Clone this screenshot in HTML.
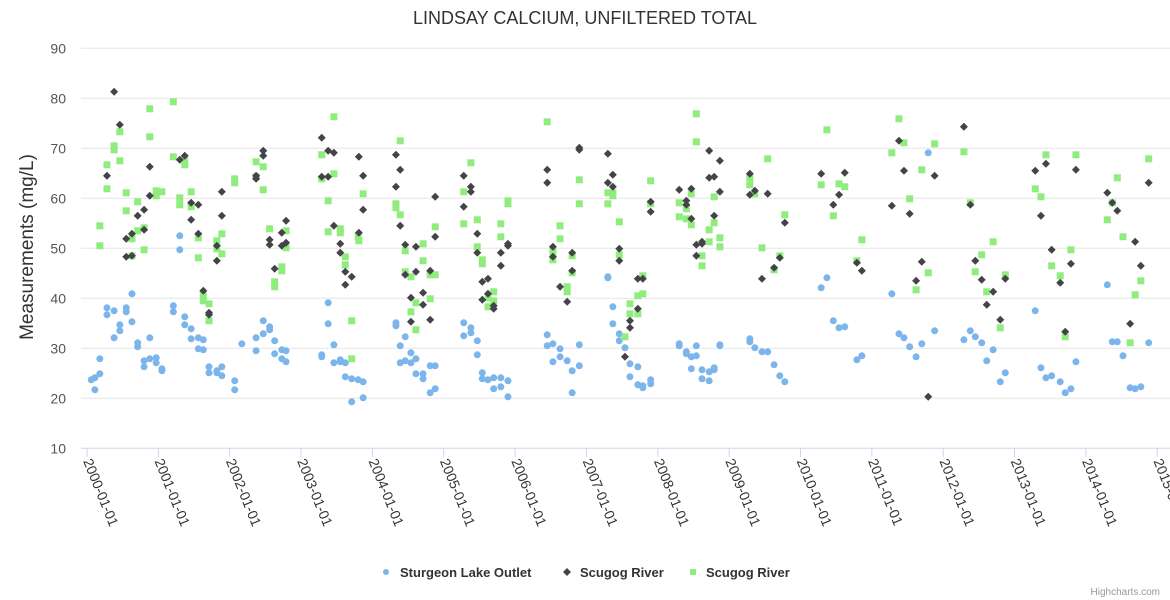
<!DOCTYPE html>
<html><head><meta charset="utf-8">
<style>
body{margin:0;background:#fff;}
svg{display:block;font-family:"Liberation Sans","DejaVu Sans",sans-serif;}
</style></head>
<body>
<svg id="chart" width="1170" height="600" viewBox="0 0 1170 600">
  <rect width="1170" height="600" fill="#fff"/>
  <text x="585" y="24" text-anchor="middle" font-size="18" fill="#333">LINDSAY CALCIUM, UNFILTERED TOTAL</text>
  <g id="grid"></g>
  <g id="yaxis"></g>
  <g id="xaxis"></g>
  <text transform="translate(33,247) rotate(-90)" text-anchor="middle" font-size="19" fill="#333">Measurements (mg/L)</text>
  <g id="series"></g>
  <g>
    <g>
      <circle cx="386" cy="572" r="3" fill="#7cb5ec"/>
      <text x="400" y="577" font-size="13" font-weight="bold" fill="#333">Sturgeon Lake Outlet</text>
    </g>
    <g>
      <path d="M567 568 L571 572 L567 576 L563 572 Z" fill="#434348"/>
      <text x="580" y="577" font-size="13" font-weight="bold" fill="#333">Scugog River</text>
    </g>
    <g>
      <rect x="690" y="569" width="6" height="6" fill="#90ed7d"/>
      <text x="706" y="577" font-size="13" font-weight="bold" fill="#333">Scugog River</text>
    </g>
  </g>
  <text x="1160" y="595" text-anchor="end" font-size="10" fill="#999">Highcharts.com</text>
</svg>
<script>
const yTicks=[10,20,30,40,50,60,70,80,90];
const xTickLabels=["2000-01-01","2001-01-01","2002-01-01","2003-01-01","2004-01-01","2005-01-01","2006-01-01","2007-01-01","2008-01-01","2009-01-01","2010-01-01","2011-01-01","2012-01-01","2013-01-01","2014-01-01","2015-01-01"];
// x = years since 2000-01-01, y = mg/L
const sturgeonX=[0.06,0.11,0.11,0.18,0.18,0.28,0.28,0.38,0.38,0.46,0.46,0.55,0.55,0.63,0.63,0.71,0.71,0.80,0.80,0.88,0.88,0.97,0.97,1.05,1.05,1.21,1.21,1.30,1.30,1.37,1.37,1.46,1.46,1.56,1.56,1.63,1.63,1.71,1.71,1.82,1.82,1.89,1.89,2.07,2.07,2.17,2.37,2.37,2.47,2.47,2.56,2.56,2.63,2.63,2.73,2.73,2.79,2.79,3.29,3.29,3.38,3.38,3.46,3.46,3.55,3.55,3.62,3.62,3.71,3.71,3.80,3.87,3.87,4.33,4.33,4.39,4.46,4.39,4.46,4.54,4.54,4.61,4.61,4.71,4.71,4.81,4.88,4.81,4.88,5.28,5.38,5.38,5.28,5.47,5.47,5.54,5.54,5.62,5.70,5.80,5.70,5.80,5.90,5.90,6.45,6.45,6.53,6.63,6.53,6.63,6.73,6.80,6.90,6.90,6.80,7.30,7.30,7.37,7.37,7.46,7.46,7.54,7.61,7.61,7.72,7.72,7.79,7.79,7.90,7.90,8.30,8.30,8.40,8.40,8.47,8.54,8.54,8.47,8.62,8.62,8.72,8.72,8.79,8.79,8.87,8.87,9.29,9.29,9.36,9.46,9.54,9.63,9.71,9.78,10.29,10.37,10.46,10.54,10.62,10.79,10.86,11.28,11.38,11.45,11.53,11.62,11.70,11.79,11.88,12.29,12.38,12.45,12.54,12.61,12.70,12.80,12.87,13.29,13.37,13.44,13.52,13.64,13.71,13.79,13.86,14.30,14.37,14.44,14.52,14.62,14.69,14.77,14.88];
const sturgeonY=[23.7,24.1,21.7,27.9,24.9,38.1,36.7,37.5,32.1,34.7,33.5,38.1,37.3,40.9,35.3,31.1,30.3,27.5,26.3,32.1,27.9,28.1,27.1,25.9,25.5,38.5,37.3,52.5,49.7,36.3,34.7,33.9,31.9,32.1,29.9,31.7,29.7,26.3,25.1,25.5,25.1,26.3,24.5,23.5,21.7,30.9,32.1,29.5,35.5,32.9,34.3,33.7,31.5,28.9,29.7,27.9,29.5,27.3,28.7,28.3,39.1,34.9,30.7,27.1,27.7,27.3,27.1,24.3,23.9,19.3,23.7,23.3,20.1,35.1,34.5,30.5,32.3,27.1,27.5,29.1,27.1,27.9,24.9,24.9,23.9,26.5,26.5,21.1,21.9,35.1,34.1,33.1,32.5,31.5,28.7,25.1,23.9,23.7,24.1,24.1,21.9,22.3,23.5,20.3,32.7,30.5,30.9,29.9,27.3,28.3,27.5,25.5,30.7,26.5,21.1,44.3,44.1,38.3,34.9,32.9,31.5,30.1,26.9,24.3,26.3,22.7,22.5,22.1,23.7,22.9,30.9,30.5,29.3,28.9,28.3,30.5,28.5,25.9,25.7,23.9,25.3,23.5,26.1,25.7,30.7,30.5,31.9,31.3,30.1,29.3,29.3,26.7,24.5,23.3,42.1,44.1,35.5,34.1,34.3,27.7,28.5,40.9,32.9,32.1,30.3,28.3,30.9,69.1,33.5,31.7,33.5,32.3,31.1,27.5,29.7,23.3,25.1,37.5,26.1,24.1,24.5,23.3,21.1,21.9,27.3,42.7,31.3,31.3,28.5,22.1,21.9,22.3,31.1];
const scugogAX=[0.38,0.46,0.28,0.55,0.55,0.63,0.63,0.71,0.80,0.80,0.88,0.88,1.30,1.37,1.46,1.46,1.56,1.56,1.63,1.71,1.71,1.82,1.82,1.89,1.89,2.37,2.37,2.47,2.47,2.56,2.56,2.63,2.73,2.73,2.79,2.79,3.29,3.29,3.38,3.38,3.46,3.46,3.55,3.55,3.62,3.62,3.71,3.81,3.81,3.87,3.87,4.33,4.39,4.33,4.39,4.46,4.46,4.61,4.61,4.88,4.88,4.81,4.71,4.71,4.54,4.54,4.81,5.28,5.38,5.38,5.28,5.47,5.47,5.54,5.62,5.62,5.54,5.70,5.70,5.80,5.80,5.90,5.90,6.45,6.45,6.53,6.53,6.63,6.73,6.80,6.80,6.90,6.90,7.30,7.37,7.30,7.37,7.46,7.46,7.61,7.61,7.54,7.72,7.72,7.79,7.90,7.90,8.30,8.40,8.40,8.47,8.47,8.54,8.54,8.62,8.62,8.72,8.72,8.79,8.79,8.87,8.87,9.29,9.29,9.36,9.54,9.46,9.63,9.71,9.78,10.29,10.46,10.54,10.62,10.86,10.79,11.28,11.38,11.45,11.53,11.62,11.70,11.79,11.88,12.29,12.38,12.45,12.54,12.61,12.70,12.80,12.87,13.29,13.44,13.37,13.52,13.64,13.71,13.79,13.86,14.30,14.37,14.44,14.69,14.77,14.62,14.88];
const scugogAY=[81.3,74.7,64.5,51.9,48.3,52.9,48.5,56.5,57.7,53.7,66.3,60.5,67.7,68.5,59.1,55.7,58.7,52.9,41.5,37.1,36.7,50.5,47.5,61.3,56.5,64.5,63.9,69.5,68.5,51.7,50.7,45.9,53.1,50.5,55.5,51.1,72.1,64.3,69.5,64.3,69.1,54.5,50.9,49.1,45.3,42.7,44.3,68.3,53.1,64.5,57.7,68.7,65.7,62.3,54.5,50.7,44.7,50.3,45.3,60.3,52.3,45.5,41.1,38.7,40.1,35.3,35.7,64.5,62.3,61.3,58.3,52.9,49.1,43.3,43.9,40.9,39.7,38.5,37.9,49.1,46.5,50.9,50.5,65.7,63.1,50.3,48.3,42.3,39.3,49.1,45.5,70.1,69.7,68.9,64.7,63.1,62.3,49.9,47.5,35.5,34.1,28.3,37.9,43.9,43.9,59.3,57.3,61.7,59.5,58.7,61.9,55.9,50.7,48.5,51.3,50.9,69.5,64.1,64.3,56.5,67.5,61.3,64.9,60.7,61.5,60.9,43.9,46.1,48.1,55.1,64.9,58.7,60.7,65.1,45.5,47.1,58.5,71.5,65.5,56.9,43.5,47.3,20.3,64.5,74.3,58.7,47.5,43.7,38.7,41.3,35.7,43.9,65.5,66.9,56.5,49.7,43.1,33.3,46.9,65.7,61.1,59.1,57.5,51.3,46.5,34.9,63.1];
const scugogBX=[0.18,0.18,0.28,0.28,0.38,0.38,0.46,0.46,0.55,0.55,0.63,0.63,0.71,0.71,0.80,0.80,0.88,0.88,0.97,0.97,1.05,1.21,1.21,1.30,1.30,1.37,1.37,1.46,1.46,1.56,1.56,1.63,1.63,1.71,1.71,1.82,1.82,1.89,1.89,2.07,2.07,2.37,2.37,2.47,2.47,2.56,2.63,2.63,2.73,2.73,2.79,2.79,3.29,3.29,3.38,3.38,3.46,3.46,3.55,3.55,3.62,3.62,3.71,3.71,3.80,3.87,3.81,4.39,4.33,4.33,4.39,4.46,4.46,4.54,4.71,4.71,4.88,4.81,4.88,4.81,4.61,4.54,4.61,5.38,5.28,5.28,5.47,5.47,5.54,5.54,5.80,5.80,5.90,5.90,5.70,5.70,5.62,5.62,6.45,6.53,6.53,6.63,6.63,6.73,6.73,6.80,6.80,6.90,6.90,7.30,7.37,7.37,7.30,7.46,7.46,7.61,7.61,7.54,7.72,7.72,7.79,7.79,7.90,7.90,8.30,8.30,8.40,8.40,8.47,8.47,8.54,8.54,8.62,8.62,8.72,8.72,8.79,8.79,8.87,8.87,9.29,9.29,9.36,9.46,9.54,9.63,9.71,9.78,10.29,10.37,10.46,10.54,10.62,10.79,10.86,11.28,11.38,11.45,11.53,11.62,11.70,11.79,11.88,12.29,12.38,12.45,12.54,12.61,12.70,12.80,12.87,13.29,13.37,13.44,13.52,13.64,13.71,13.79,13.86,14.30,14.37,14.44,14.52,14.62,14.69,14.77,14.88];
const scugogBY=[54.5,50.5,66.7,61.9,70.5,69.7,73.3,67.5,61.1,57.5,51.9,48.5,59.3,53.5,54.1,49.7,77.9,72.3,61.5,60.5,61.3,79.3,68.3,60.1,58.7,67.5,66.7,61.3,58.3,52.1,48.1,40.7,39.5,38.9,35.5,51.5,49.9,52.9,48.9,63.9,63.1,67.3,64.3,66.3,61.7,53.9,43.3,42.3,46.3,45.5,53.5,50.1,68.7,63.9,59.5,53.3,76.3,64.9,53.9,53.1,48.3,46.7,35.5,27.9,52.3,60.9,51.5,71.5,58.9,58.1,56.7,49.5,45.3,44.3,50.9,47.5,54.3,44.7,44.7,39.9,39.1,37.3,33.7,67.1,61.3,54.9,55.7,50.3,47.7,46.9,54.9,52.3,59.5,58.9,41.3,39.5,40.1,38.3,75.3,49.3,47.7,54.5,51.9,42.3,41.3,48.5,45.1,63.7,58.9,61.1,61.1,60.5,58.9,55.3,48.7,38.9,36.9,32.3,40.5,36.9,44.5,40.9,63.5,58.9,59.1,56.3,57.9,55.9,60.9,54.7,76.9,71.3,48.5,46.5,53.7,51.3,60.3,55.1,52.1,50.3,64.1,62.7,60.9,50.1,67.9,45.7,48.5,56.7,62.7,73.7,56.5,62.9,62.3,47.5,51.7,69.1,75.9,71.1,59.9,41.7,65.7,45.1,70.9,69.3,59.1,45.3,48.7,41.3,51.3,34.1,44.7,61.9,60.3,68.7,46.5,44.5,32.3,49.7,68.7,55.7,59.1,64.1,52.3,31.1,40.7,43.5,67.9];

const NS='http://www.w3.org/2000/svg';
const X0=87, PXY=71.35, Y0=448.3, PXV=5;
function xScale(t){return X0+t*PXY;}
function yScale(v){return Y0-(v-10)*PXV;}
function mk(tag,attrs,parent){const e=document.createElementNS(NS,tag);for(const k in attrs)e.setAttribute(k,attrs[k]);parent.appendChild(e);return e;}

const grid=document.getElementById('grid'), yaxis=document.getElementById('yaxis'), xaxis=document.getElementById('xaxis'), series=document.getElementById('series');
yTicks.forEach(v=>{
  const y=yScale(v);
  if(v>10){
    const l=mk('line',{x1:81,x2:1170,y1:y,y2:y,stroke:'#e6e6e6','stroke-width':1},grid);
    
    
  }
  const t=mk('text',{x:66,y:y+5,'text-anchor':'end','font-size':14,fill:'#555'},yaxis);
  t.textContent=v;
  
  
});
const al=mk('line',{x1:81,x2:1170,y1:yScale(10),y2:yScale(10),stroke:'#ccd6eb','stroke-width':1},xaxis);


xTickLabels.forEach((s,i)=>{
  const x=xScale(i);
  const tk=mk('line',{x1:x,x2:x,y1:448,y2:457,stroke:'#ccd6eb'},xaxis);
  
  
  const t=mk('text',{x:0,y:0,'font-size':14,fill:'#333',transform:`translate(${x-4},${461}) rotate(68)`},xaxis);
  t.textContent=s;
  
  
});
const gA=mk('g',{},series);


sturgeonX.forEach((t,i)=>{
  const c=mk('circle',{cx:xScale(t),cy:yScale(sturgeonY[i]),r:3.5,fill:'#7cb5ec'},gA);
  
  
});
const gC=mk('g',{},series);


scugogBX.forEach((t,i)=>{
  const x=xScale(t), y=yScale(scugogBY[i]);
  const r=mk('rect',{x:x-3.5,y:y-3.5,width:7,height:7,fill:'#90ed7d'},gC);
  
  
});
const gB=mk('g',{},series);


scugogAX.forEach((t,i)=>{
  const x=xScale(t), y=yScale(scugogAY[i]);
  const p=mk('path',{d:`M${x} ${y-4}L${x+4} ${y}L${x} ${y+4}L${x-4} ${y}Z`,fill:'#434348'},gB);
  
  
});
</script>
</body></html>
